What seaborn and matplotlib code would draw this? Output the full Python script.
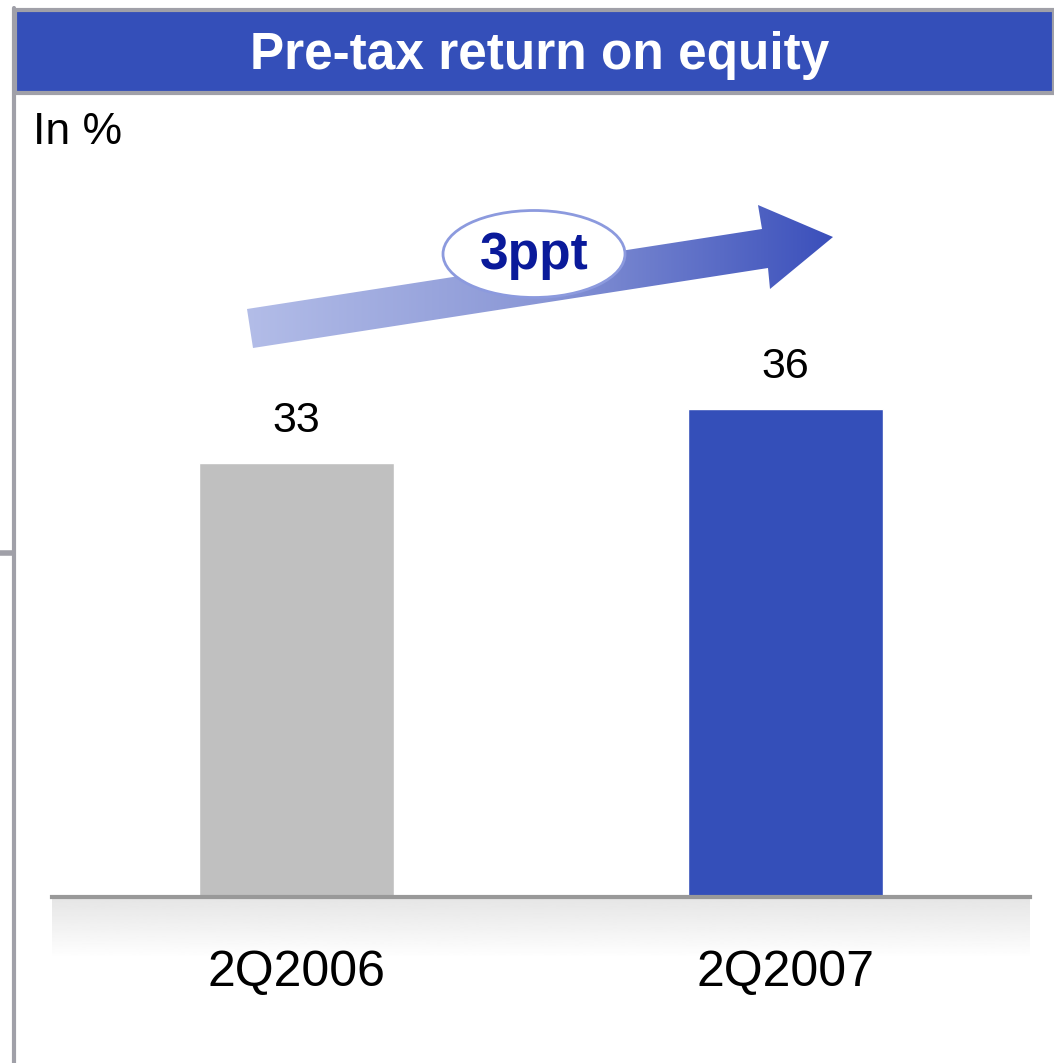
import matplotlib
matplotlib.use('Agg')

import matplotlib.pyplot as plt
import numpy as np
import pandas as pd
import seaborn as sns
from matplotlib.patches import Ellipse, Polygon, Rectangle

quarters = ['2Q2006', '2Q2007']
roe_values = [33, 36]
bar_colors = ['#c0c0c0', '#344fb9']
title = 'Pre-tax return on equity'
unit_label = 'In %'
change_label = '3ppt'

sns.set_theme(style='white')
plt.rcParams['font.family'] = ['Liberation Sans', 'DejaVu Sans']

W, H = 1054, 1063
fig = plt.figure(figsize=(W / 100, H / 100), dpi=100)

# pixel-coordinate overlay for the slide decorations
deco = fig.add_axes([0, 0, 1, 1], zorder=0)
deco.set_xlim(0, W)
deco.set_ylim(H, 0)
deco.axis('off')

deco.add_patch(Rectangle((15, 10), W - 15, 83, facecolor='#344fb9',
                         edgecolor='#a0a0a8', lw=3))
deco.text(540, 55, title, color='white', fontsize=37, fontweight='bold',
          ha='center', va='center')
deco.plot([14, 14], [8, H], color='#a0a0a8', lw=3)
deco.plot([0, 13], [553, 553], color='#a0a0a8', lw=4)
deco.text(33, 133, unit_label, fontsize=32, ha='left', va='center', color='black')

# shadow under the baseline, darker next to the line
shade = np.linspace(0.90, 1.0, 60).reshape(-1, 1)
deco.imshow(shade, cmap='gray', vmin=0, vmax=1, extent=(52, 1030, 958, 899),
            aspect='auto', zorder=1)

# gradient arrow
arrow_pts = [(253, 348), (247, 309), (762, 229), (758, 205), (833, 237),
             (770, 289), (768, 268)]
arrow = Polygon(arrow_pts, closed=True, facecolor='none', edgecolor='none')
deco.add_patch(arrow)
grad = np.linspace(0, 1, 256).reshape(1, -1)
cmap = matplotlib.colors.LinearSegmentedColormap.from_list('arr', ['#b3bde8', '#8a97d6', '#3a4fbb'])
img = deco.imshow(grad, cmap=cmap, extent=(245, 835, 350, 203), aspect='auto', zorder=2)
img.set_clip_path(arrow)

deco.add_patch(Ellipse((534, 254), 182, 87, facecolor='white', edgecolor='#8c9ade',
                       lw=2, zorder=3))
deco.text(534, 256, change_label, color='#0a1a9a', fontsize=37, fontweight='bold',
          ha='center', va='center', zorder=4)

# bar chart
df = pd.DataFrame({'quarter': quarters, 'roe': roe_values})
ax = fig.add_axes([52 / W, 1 - 897 / H, 978 / W, (897 - 190) / H], zorder=1)
ax.patch.set_alpha(0)
sns.barplot(data=df, x='quarter', y='roe', hue='quarter', palette=bar_colors,
            width=0.4, saturation=1, legend=False, ax=ax)
ax.set_xlim(-0.5, 1.5)
ax.set_ylim(8.9, 48.18)
ax.set_xlabel('')
ax.set_ylabel('')
ax.set_yticks([])
for side in ['top', 'right', 'left']:
    ax.spines[side].set_visible(False)
ax.spines['bottom'].set_color('#999999')
ax.spines['bottom'].set_linewidth(3)
ax.tick_params(axis='x', length=0, labelsize=36, pad=38, labelcolor='black')
for cont in ax.containers:
    ax.bar_label(cont, fontsize=31, padding=16, color='black')

fig.savefig('out.png', dpi=100)
